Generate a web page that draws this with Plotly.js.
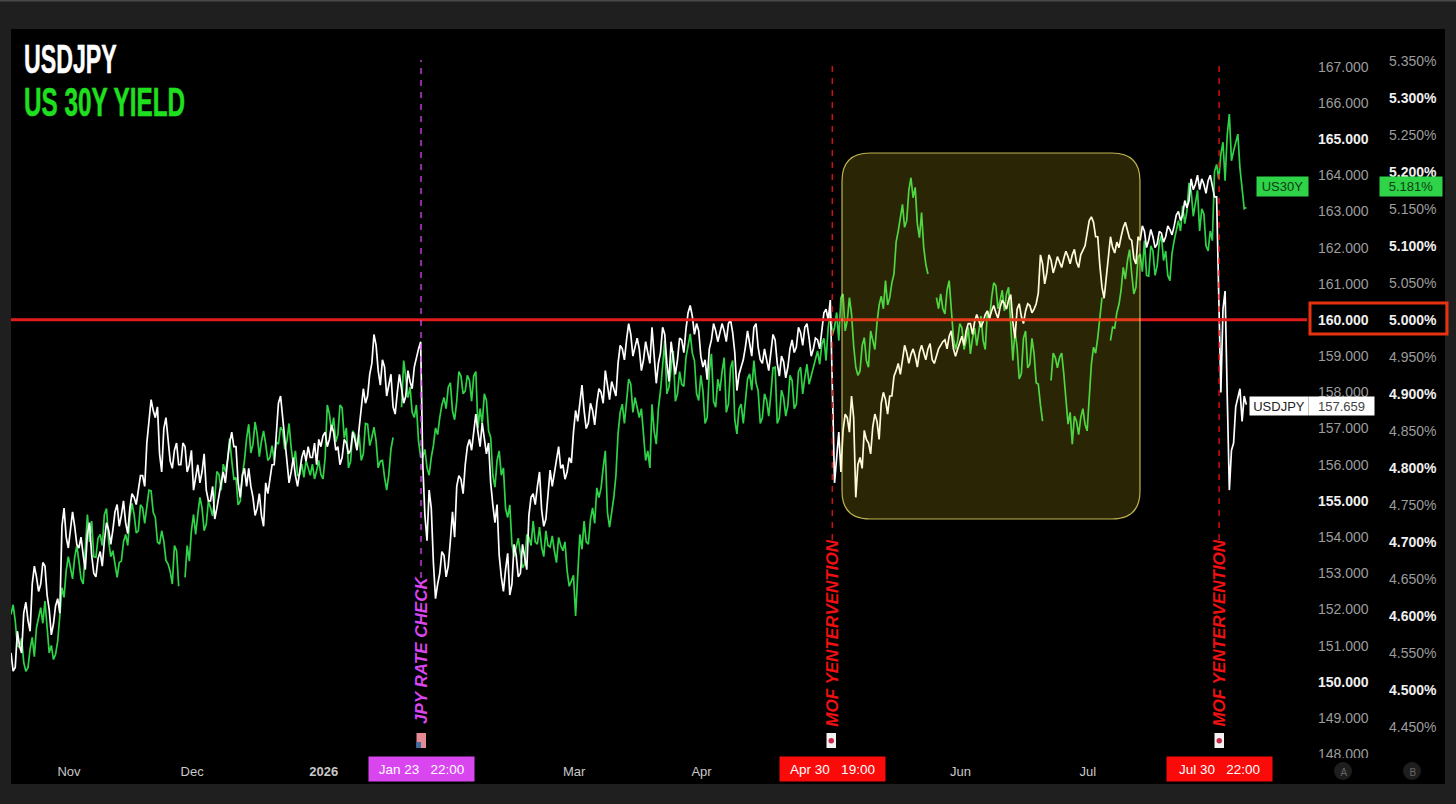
<!DOCTYPE html>
<html><head><meta charset="utf-8">
<script src="https://cdn.plot.ly/plotly-3.0.1.min.js"></script>
<style>html,body{margin:0;padding:0;background:#1f1f1f;overflow:hidden}#c{width:1456px;height:804px}</style>
</head><body><div id="c"></div>
<script>
// one main reading per calendar day from firstDay, plus one wick reading half a day later
const firstDay = Date.UTC(2025, 9, 19, 8);
const usdjpy = [
150.8,150.4,151.0,151.9,151.7,152.7,152.9,152.7,153.2,152.0,
151.6,152.3,154.3,154.0,154.2,154.3,153.7,153.5,154.1,153.5,
152.9,153.6,153.9,154.2,154.2,154.9,154.6,154.4,154.8,155.1,
155.3,155.7,156.6,157.8,157.3,156.3,157.0,156.6,155.9,156.6,
156.0,156.5,156.0,155.3,156.0,155.8,155.3,155.0,154.5,155.2,
155.8,156.1,156.9,156.5,155.1,155.9,155.9,155.1,154.8,154.6,
155.5,155.6,156.0,157.7,157.3,155.9,155.8,155.7,155.8,156.4,
156.5,156.2,156.0,156.5,156.9,156.7,156.9,156.5,156.2,156.6,
156.4,156.7,157.0,158.1,157.9,158.8,159.3,158.2,158.7,158.2,
157.6,158.0,158.1,157.9,158.3,158.7,159.2,156.0,153.9,154.8,
152.3,153.0,153.5,153.2,154.7,155.4,155.6,156.0,156.7,157.0,
156.9,157.15,156.3,155.5,154.4,153.5,152.5,153.55,152.7,153.5,
153.0,153.5,154.6,155.2,155.4,154.75,154.5,155.85,155.8,156.5,
156.0,155.8,156.05,157.5,157.8,157.5,157.15,157.5,157.7,158.0,
158.6,157.8,158.1,158.8,159.2,159.45,159.6,159.25,159.2,158.9,
159.1,159.8,158.25,159.1,159.6,158.3,159.0,158.9,159.45,159.75,
160.4,159.6,159.7,158.7,158.35,159.45,159.7,159.65,159.7,159.9,
159.65,158.05,158.7,159.25,159.35,159.8,159.25,158.8,158.9,159.1,
159.45,158.45,158.85,158.7,159.45,159.25,159.65,159.8,159.5,159.2,
159.45,159.7,160.3,160.55,155.5,156.9,156.95,157.3,157.9,155.1,
156.2,156.95,156.6,157.05,157.2,157.7,157.8,157.9,158.45,158.8,
158.9,159.1,159.05,159.0,159.1,159.1,159.2,158.9,159.0,159.3,
159.45,159.55,159.2,159.2,159.55,159.7,159.9,159.95,160.0,159.95,
160.25,160.25,160.2,160.35,160.45,160.55,159.95,160.3,160.1,160.25,
160.4,160.3,160.75,161.55,161.3,161.65,161.5,161.6,161.7,161.75,
161.8,161.6,161.8,162.05,162.75,162.7,162.3,160.9,161.15,162.3,
161.85,162.0,162.55,162.5,162.2,161.55,162.2,162.45,162.2,162.3,
162.1,162.4,162.3,162.5,162.6,163.0,162.9,163.1,163.9,163.75,
163.6,163.75,163.85,163.7,163.4,158.0,160.8,155.3,156.6,157.9,
157.2,157.66
];
const usdjpyWick = [
150.3,151.4,150.8,152.2,151.4,153.2,152.5,153.3,152.4,151.3,
152.1,151.9,154.8,153.7,154.7,153.8,154.0,153.1,154.4,153.0,
153.4,153.2,154.4,153.8,154.7,154.3,155.0,154.1,155.2,154.9,
155.7,155.4,157.2,157.5,157.6,155.8,157.3,156.1,156.4,156.0,
156.6,155.8,156.4,155.7,155.5,156.3,155.0,155.4,154.8,155.5,
155.5,156.6,156.5,155.5,155.7,155.4,155.4,154.6,155.2,154.3,
155.2,156.0,156.8,157.9,156.6,155.5,156.2,155.4,156.2,156.1,
156.2,156.6,156.7,156.8,156.5,157.1,156.4,156.0,156.7,156.3,
156.9,156.4,157.6,157.7,158.5,159.6,158.6,158.9,157.9,158.5,
157.4,158.5,157.7,158.6,158.1,159.0,159.4,154.6,155.3,153.3,
152.7,153.6,152.9,153.9,154.0,155.7,155.2,156.5,156.4,157.4,
156.5,156.7,156.6,154.9,154.9,152.9,153.1,152.4,153.8,152.9,
153.8,153.1,155.1,154.9,155.8,154.3,155.2,155.4,156.2,155.9,
155.6,156.2,156.9,157.2,158.2,157.0,157.7,157.1,158.1,157.7,
158.2,158.3,157.9,159.3,158.9,159.9,159.0,159.5,158.6,159.4,
158.8,159.0,158.8,159.8,158.8,159.4,158.5,159.5,159.1,160.2,
160.1,159.9,159.0,158.9,159.2,159.9,159.4,159.9,159.4,160.0,
159.1,158.5,158.9,159.7,159.0,159.9,158.9,159.2,158.6,159.6,
158.8,159.0,158.4,159.2,159.1,159.8,159.3,159.9,159.0,159.5,
159.2,160.2,160.0,158.0,156.2,155.8,157.4,156.9,157.3,156.0,
155.9,156.7,156.3,157.4,156.7,158.0,157.4,157.9,158.6,158.5,
159.3,158.8,159.2,158.7,159.3,158.9,159.35,158.8,159.2,159.4,
159.2,159.7,159.0,159.4,159.3,159.9,159.6,160.15,159.8,160.15,
160.05,160.4,160.05,160.55,160.3,160.7,159.5,160.45,159.9,160.45,
160.2,160.45,161.8,161.0,161.8,161.3,161.75,161.45,161.9,161.55,
161.95,161.45,161.95,162.4,162.85,162.3,161.5,160.6,161.8,162.0,
162.15,162.3,162.7,162.25,161.7,162.3,162.6,162.0,162.5,162.0,
162.45,162.15,162.6,162.35,162.9,162.75,163.3,163.3,163.6,164.0,
163.9,163.5,164.0,163.4,160.5,160.3,157.9,156.4,157.6,158.1,
157.9
];
const us30y = [
4.602,4.593,4.557,4.537,4.530,4.571,4.584,4.611,4.620,4.550,
4.541,4.566,4.638,4.661,4.665,4.679,4.674,4.643,4.737,4.728,
4.679,4.710,4.737,4.701,4.688,4.652,4.674,4.710,4.733,4.737,
4.715,4.746,4.746,4.769,4.733,4.697,4.701,4.670,4.643,4.688,
null,4.652,4.674,4.737,4.737,4.746,4.724,4.746,4.760,4.791,
4.805,4.810,4.810,4.787,4.755,4.810,4.859,4.832,4.845,4.836,
4.832,4.814,4.810,4.832,4.850,4.836,4.827,4.823,4.791,4.787,
4.800,4.805,4.796,4.791,4.814,4.873,4.868,4.845,4.881,4.854,
4.809,4.845,4.845,4.819,4.859,4.841,4.836,4.809,4.787,4.791,
4.841,null,4.882,4.922,4.909,4.868,4.836,4.814,4.800,4.814,
4.854,4.868,4.895,4.909,4.877,4.890,4.924,4.904,4.918,4.924,
4.854,4.859,4.891,4.841,4.774,4.823,4.800,4.733,4.697,4.693,
4.684,4.670,4.706,4.728,4.697,4.693,4.715,4.693,4.688,4.706,
4.688,4.661,4.647,4.600,4.710,4.728,4.697,4.746,4.773,4.773,
4.823,4.720,4.760,4.846,4.886,4.886,4.913,4.895,4.868,4.846,
4.823,4.886,4.832,4.904,4.972,4.909,4.958,4.900,4.913,4.949,
4.981,4.945,4.891,4.904,4.868,4.954,4.882,4.904,4.949,4.886,
4.945,4.846,4.886,4.886,4.927,4.945,4.904,4.868,4.891,4.900,
4.936,4.868,4.895,4.884,4.918,4.886,4.936,4.922,4.913,4.936,
4.958,4.967,4.945,5.008,4.990,4.972,5.035,4.999,5.008,4.936,
4.931,4.976,4.936,4.972,4.996,5.032,5.053,5.030,5.062,5.120,
5.156,5.134,5.192,5.179,5.111,5.098,5.062,null,5.030,5.035,
5.008,5.053,4.976,4.972,4.989,4.972,4.954,4.989,4.989,4.972,
5.012,5.030,5.046,5.026,5.012,5.044,4.945,4.963,4.927,4.985,
4.940,4.954,4.913,4.863,null,4.918,4.949,4.949,4.927,4.859,
4.832,4.863,4.868,4.859,4.895,4.963,4.976,5.030,null,4.972,
4.989,5.021,5.071,5.080,5.062,5.044,5.089,5.107,5.059,5.093,
5.073,5.114,5.093,5.053,5.107,5.134,5.154,5.147,5.174,5.156,
5.120,5.143,5.093,5.107,5.210,5.224,5.188,5.278,5.228,5.251,
5.179,5.152
];
const us30yWick = [
4.615,4.560,4.570,4.525,4.555,4.545,4.600,4.590,4.585,4.560,
4.548,4.600,4.625,4.680,4.650,4.695,4.650,4.700,4.700,4.680,
4.705,4.695,4.745,4.680,4.670,4.672,4.700,4.695,4.752,4.712,
4.750,4.725,4.770,4.740,4.700,4.715,4.675,4.660,4.695,4.640,
null,4.695,4.715,4.710,4.760,4.715,4.755,4.735,4.795,4.770,
4.795,4.840,4.785,4.750,4.790,4.840,4.820,4.862,4.815,4.850,
4.810,4.830,4.835,4.855,4.825,4.860,4.805,4.790,4.805,4.810,
4.790,4.785,4.810,4.785,4.885,4.850,4.835,4.885,4.840,4.800,
4.850,4.825,4.810,4.860,4.830,4.855,4.800,4.810,4.770,4.825,
null,null,4.945,4.895,4.875,4.885,4.815,4.825,4.790,4.830,
4.845,4.885,4.880,4.915,4.865,4.930,4.900,4.925,4.890,4.930,
4.880,4.900,4.850,4.790,4.810,4.790,4.745,4.750,4.680,4.705,
4.665,4.710,4.695,4.700,4.720,4.680,4.695,4.708,4.672,4.695,
4.700,4.640,4.655,4.660,4.690,4.700,4.730,4.725,4.760,4.800,
4.740,4.740,4.790,4.875,4.860,4.920,4.875,4.880,4.880,4.810,
4.800,4.850,4.880,4.940,4.900,4.935,4.890,4.930,4.910,4.965,
4.955,4.900,4.925,4.860,4.930,4.890,4.920,4.930,4.875,4.935,
4.865,4.880,4.860,4.920,4.905,4.915,4.860,4.900,4.870,4.935,
4.860,4.905,4.870,4.925,4.880,4.930,4.900,4.940,4.925,4.945,
4.940,4.975,4.990,4.980,5.010,5.030,4.985,5.030,4.965,4.925,
4.965,4.945,4.985,4.960,5.020,5.015,5.020,5.050,5.105,5.140,
5.125,5.175,5.165,5.130,5.145,5.075,null,null,5.015,5.015,
5.040,5.010,4.960,4.995,4.960,4.990,4.975,4.965,5.005,4.960,
5.000,5.050,5.015,5.040,5.035,5.000,4.985,4.920,4.975,4.935,
4.975,4.915,4.885,null,null,4.955,4.935,4.955,4.890,4.875,
4.870,4.845,4.880,4.850,4.940,4.955,5.000,null,null,4.990,
5.010,5.040,5.055,5.095,5.035,5.085,5.065,5.060,5.100,5.060,
5.105,5.080,5.060,5.090,5.120,5.120,5.130,5.185,5.140,5.175,
5.150,5.100,5.120,5.200,5.190,5.240,5.250,5.215,5.240,5.205,
5.150
];
const yenTicks = [148,149,150,151,152,153,154,155,156,157,158,159,160,161,162,163,164,165,166,167];
const yenBold = [150,155,160,165];
const yieldTicks = [4.45,4.5,4.55,4.6,4.65,4.7,4.75,4.8,4.85,4.9,4.95,5.0,5.05,5.1,5.15,5.2,5.25,5.3,5.35];
const yieldBold = [4.5,4.6,4.7,4.8,4.9,5.0,5.1,5.2,5.3];
const monthTicks = ['2025-11-02','2025-12-01','2026-01-01','2026-03-01','2026-03-31','2026-05-31','2026-06-30'];
const monthLabels = ['Nov','Dec','<b>2026</b>','Mar','Apr','Jun','Jul'];
const rateCheck = '2026-01-23 22:00', mof1 = '2026-04-30 19:00', mof2 = '2026-07-30 22:00';

// interleave the daily readings with their half-day wick readings
function weave(main, wick) {
  const x = [], y = [];
  const stamp = t => new Date(t).toISOString().slice(0, 16).replace('T', ' ');
  main.forEach((v, i) => {
    x.push(stamp(firstDay + i * 864e5)); y.push(v);
    if (i < wick.length) { x.push(stamp(firstDay + (i + 0.5) * 864e5)); y.push(wick[i]); }
  });
  return {x, y};
}
const X = x => x / 1456, Y = y => 1 - y / 804;
const FONT = 'Liberation Sans, Arial, sans-serif';
const PURPLE = '#d946ef', RED = '#f01010', GREEN = '#2fd347';

function roundRect(x0, y0, x1, y1, r) {
  const rx = r / 1456, ry = r / 804, a = X(x0), b = X(x1), t = Y(y0), u = Y(y1);
  return `M ${a + rx} ${t} L ${b - rx} ${t} Q ${b} ${t} ${b} ${t - ry} L ${b} ${u + ry} Q ${b} ${u} ${b - rx} ${u} L ${a + rx} ${u} Q ${a} ${u} ${a} ${u + ry} L ${a} ${t - ry} Q ${a} ${t} ${a + rx} ${t} Z`;
}
const pageRect = (x0, y0, x1, y1, fill, layer, line) => ({type:'rect', xref:'paper', yref:'paper', x0:X(x0), x1:X(x1), y0:Y(y1), y1:Y(y0), fillcolor:fill, line:line||{width:0}, layer:layer||'above'});
const vLine = (d, col, y1px) => ({type:'line', xref:'x', yref:'paper', x0:d, x1:d, y0:Y(y1px), y1:Y(60), line:{color:col, width:1.3, dash:'6px,6px'}, layer:'above'});
const tag = (x, y, w, h, text, bg, col, size, extra) => Object.assign({xref:'paper', yref:'paper', x:X(x), y:Y(y), xanchor:'left', yanchor:'top', width:w, height:h, showarrow:false, text, bgcolor:bg, borderpad:0, align:'center', valign:'middle', font:{family:FONT, size:size||13, color:col}}, extra||{});
const vText = (d, bottom, text, col, size) => ({xref:'x', yref:'paper', x:d, y:Y(bottom), xanchor:'center', yanchor:'bottom', textangle:-90, showarrow:false, text:'<b><i>'+text+'</i></b>', font:{family:FONT, size, color:col}});
const timeTag = (d, text, bg) => ({xref:'x', yref:'paper', x:d, y:Y(756), xanchor:'center', yanchor:'top', width:105, height:24, borderpad:0, showarrow:false, text, bgcolor:bg, align:'center', valign:'middle', font:{family:FONT, size:13.5, color:'#fff'}});

const shapes = [
  pageRect(11, 29, 1445, 784, '#000', 'below'),
  pageRect(0, 0, 1456, 1.5, '#4a4a4a', 'below'),
  {type:'line', xref:'paper', yref:'y', x0:X(11), x1:X(1307), y0:5.0, y1:5.0, line:{color:'#e21b1b', width:3}, layer:'above'},
  {type:'path', xref:'paper', yref:'paper', path:roundRect(842, 153, 1140, 519, 28), fillcolor:'rgba(255,230,30,0.16)', line:{color:'rgba(255,240,110,0.72)', width:1.2}, layer:'above'},
  vLine(rateCheck, PURPLE, 578), vLine(mof1, RED, 540), vLine(mof2, RED, 540),
  pageRect(1310, 758, 1445, 784, '#000'),
  pageRect(1310, 303, 1447, 334, 'rgba(0,0,0,0)', 'above', {color:'#e8320f', width:3}),
  // flag markers
  pageRect(416.5, 733, 426, 748, '#e58a94'),
  pageRect(416.5, 742, 421, 748, '#3a6ea8'),
  pageRect(826.5, 733, 836, 748, '#f2f2f2'),
  {type:'circle', xref:'paper', yref:'paper', x0:X(828.5), x1:X(834), y0:Y(743.5), y1:Y(738), fillcolor:'#c8264a', line:{width:0}, layer:'above'},
  pageRect(1214.5, 733, 1224, 748, '#f2f2f2'),
  {type:'circle', xref:'paper', yref:'paper', x0:X(1216.5), x1:X(1222), y0:Y(743.5), y1:Y(738), fillcolor:'#c8264a', line:{width:0}, layer:'above'},
  {type:'circle', xref:'paper', yref:'paper', x0:X(1334), x1:X(1352), y0:Y(780), y1:Y(762), fillcolor:'#1e1e1e', line:{width:0}, layer:'above'},
  {type:'circle', xref:'paper', yref:'paper', x0:X(1403), x1:X(1421), y0:Y(780), y1:Y(762), fillcolor:'#1e1e1e', line:{width:0}, layer:'above'}
];

const annotations = [
  {xref:'paper', yref:'paper', x:X(22), y:Y(59), xanchor:'left', yanchor:'middle', showarrow:false, text:'<b>USDJPY</b>', font:{family:FONT, size:40, color:'#fff'}},
  {xref:'paper', yref:'paper', x:X(22), y:Y(102), xanchor:'left', yanchor:'middle', showarrow:false, text:'<b>US 30Y YIELD</b>', font:{family:FONT, size:40, color:'#1fe01f'}},
  vText(rateCheck, 726, 'JPY RATE CHECK', PURPLE, 17),
  vText(mof1, 729, 'MOF YENTERVENTION', RED, 17),
  vText(mof2, 729, 'MOF YENTERVENTION', RED, 17),
  timeTag(rateCheck, 'Jan 23\u00a0\u00a0\u00a022:00', PURPLE),
  timeTag(mof1, 'Apr 30\u00a0\u00a0\u00a019:00', '#fb0a0a'),
  timeTag(mof2, 'Jul 30\u00a0\u00a0\u00a022:00', '#fb0a0a'),
  tag(1256, 176, 51, 19, 'US30Y', GREEN, '#0c3d16'),
  tag(1379, 176, 62, 19, '5.181%', GREEN, '#0c3d16'),
  tag(1249, 396, 58, 18, 'USDJPY', '#fff', '#222'),
  tag(1308, 396, 65, 18, '157.659', '#fff', '#444'),
  tag(1334, 762, 18, 18, 'A', 'rgba(0,0,0,0)', '#666', 10),
  tag(1403, 762, 18, 18, 'B', 'rgba(0,0,0,0)', '#666', 10)
];
const tickText = (vals, bold, fmt) => vals.map(v => bold.includes(v) ? `<b><span style="color:#f0f0f0">${fmt(v)}</span></b>` : fmt(v));

const domY = [1 - 755 / 804, 1 - 29 / 804];
const layout = {
  width: 1456, height: 804, margin: {l:0, r:0, t:0, b:0, pad:0},
  paper_bgcolor: '#1f1f1f', plot_bgcolor: 'rgba(0,0,0,0)', showlegend: false, hovermode: false,
  xaxis: {type:'date', domain:[X(11), X(1307)], range:['2025-10-19 08:00','2026-08-20 15:00'], showgrid:false, zeroline:false, showline:false, ticks:'',
    tickmode:'array', tickvals:monthTicks, ticktext:monthLabels, tickfont:{family:FONT, size:13, color:'#c8c8c8'}, ticklabelstandoff:7, anchor:'y'},
  yaxis: {domain:domY, range:[4.412, 5.393], side:'right', anchor:'free', position:X(1388), showgrid:false, zeroline:false, showline:false, ticks:'',
    tickmode:'array', tickvals:yieldTicks, ticktext:tickText(yieldTicks, yieldBold, v => v.toFixed(3)+'%'), tickfont:{family:FONT, size:14, color:'#9c9c9c'}},
  yaxis2: {domain:domY, range:[147.98, 168.04], side:'right', overlaying:'y', anchor:'free', position:X(1317), showgrid:false, zeroline:false, showline:false, ticks:'',
    tickmode:'array', tickvals:yenTicks, ticktext:tickText(yenTicks, yenBold, v => v.toFixed(3)), tickfont:{family:FONT, size:14, color:'#9c9c9c'}},
  shapes, annotations
};
const g = weave(us30y, us30yWick), w = weave(usdjpy, usdjpyWick);
const traces = [
  {type:'scatter', mode:'lines', name:'US30Y', x:g.x, y:g.y, yaxis:'y', connectgaps:false, line:{color:GREEN, width:1.7}},
  {type:'scatter', mode:'lines', name:'USDJPY', x:w.x, y:w.y, yaxis:'y2', connectgaps:false, line:{color:'#ffffff', width:1.7}}
];
Plotly.newPlot('c', traces, layout, {displayModeBar:false, staticPlot:true}).then(() => {
  // the heading face is condensed: narrow the real text to the reference's widths (headings only)
  const targets = {'USDJPY': 93, 'US 30Y YIELD': 161};
  document.querySelectorAll('.annotation-text').forEach(t => {
    const want = targets[t.textContent];
    if (!want || parseFloat(getComputedStyle(t).fontSize) < 30) return;
    const s = want / t.getBBox().width;
    t.style.transformBox = 'fill-box';
    t.style.transformOrigin = 'left center';
    t.style.transform = `scaleX(${s})`;
    t.style.stroke = t.style.fill;
    t.style.strokeWidth = '0.5px';
  });
});
</script></body></html>
